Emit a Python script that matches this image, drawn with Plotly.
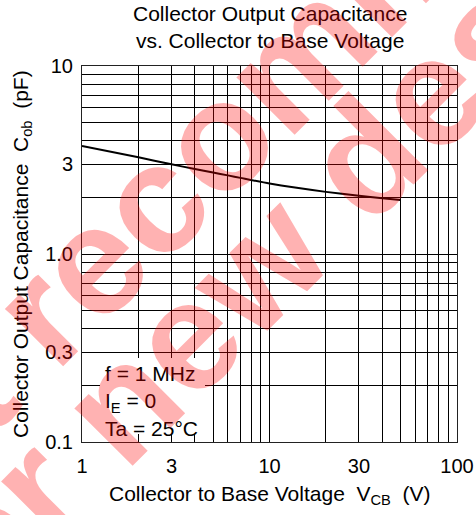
import plotly.graph_objects as go

# ---- data ----
vcb = [1, 2, 3, 4, 5, 6, 7, 10, 20, 30, 40, 50]
cob = [3.75, 3.27, 3.0, 2.83, 2.71, 2.62, 2.54, 2.37, 2.14, 2.04, 1.98, 1.94]

x_tick_vals = [1, 3, 10, 30, 100]
x_tick_text = ["1", "3", "10", "30", "100"]
y_tick_vals = [0.1, 0.3, 1.0, 3, 10]
y_tick_text = ["0.1", "0.3", "1.0", "3", "10"]

title_lines = ["Collector Output Capacitance", "vs. Collector to Base Voltage"]
x_title = "Collector to Base Voltage\u00a0\u00a0V<sub>CB</sub>\u00a0\u00a0(V)"
y_title = "Collector Output Capacitance\u00a0\u00a0C<sub>ob</sub>\u00a0\u00a0(pF)"
conditions = ["f = 1 MHz", "I<sub>E</sub> = 0", "Ta = 25\u00b0C"]
watermark = ["Not recommended", "for new design"]

# ---- layout geometry ----
W, H = 476, 515
L, R, T, B = 82, 19, 66, 73
PW, PH = W - L - R, H - T - B


def fx(px):
    return (px - L) / PW


def fy(py):
    return (H - B - py) / PH


def grid_values(lo_exp, hi_exp):
    vals = []
    for e in range(lo_exp, hi_exp):
        for m in range(1, 10):
            vals.append(round(m * 10 ** e, 6))
    vals.append(round(10 ** hi_exp, 6))
    return vals


def labels_for(grid, vals, texts):
    lut = {round(v, 6): t for v, t in zip(vals, texts)}
    return [lut.get(g, "") for g in grid]


xgrid = grid_values(0, 2)
ygrid = grid_values(-1, 1)

FONT = "Liberation Sans, Arial, Helvetica, sans-serif"

fig = go.Figure()
fig.add_trace(go.Scatter(
    x=vcb, y=cob, mode="lines",
    line=dict(color="black", width=2, shape="spline", smoothing=0.6),
    hoverinfo="skip", showlegend=False,
))

axis_common = dict(
    type="log", showline=True, mirror=True, linecolor="#222", linewidth=1,
    showgrid=True, gridcolor="black", gridwidth=1, ticks="",
    tickfont=dict(size=20, color="black", family=FONT), zeroline=False,
    fixedrange=True,
)
fig.update_xaxes(range=[0, 2], tickmode="array", tickvals=xgrid,
                 ticktext=labels_for(xgrid, x_tick_vals, x_tick_text),
                 ticklabelstandoff=6, **axis_common)
fig.update_yaxes(range=[-1, 1], tickmode="array", tickvals=ygrid,
                 ticktext=labels_for(ygrid, y_tick_vals, y_tick_text),
                 ticklabelstandoff=4, **axis_common)

WM_FONT = dict(size=155, color="rgba(255,0,0,0.3)", family=FONT, weight="bold")

annotations = [
    dict(text="<br>".join(title_lines), x=0.5, y=fy(27), xref="paper", yref="paper",
         xanchor="center", yanchor="middle", showarrow=False,
         font=dict(size=21, color="black", family=FONT)),
    dict(text=x_title, x=0.5, y=fy(495), xref="paper", yref="paper",
         xanchor="center", yanchor="middle", showarrow=False,
         font=dict(size=21, color="black", family=FONT)),
    dict(text=y_title, x=fx(22), y=0.5, xref="paper", yref="paper", textangle=-90,
         xanchor="center", yanchor="middle", showarrow=False,
         font=dict(size=21, color="black", family=FONT)),
    dict(text="<br>".join(conditions), x=fx(103), y=fy(401), xref="paper", yref="paper",
         xanchor="left", yanchor="middle", align="left", showarrow=False,
         font=dict(size=21, color="black", family=FONT)),
    dict(text=watermark[0], x=fx(285), y=fy(68), xref="paper", yref="paper",
         textangle=-45, xanchor="center", yanchor="middle", showarrow=False,
         font=WM_FONT),
    dict(text=watermark[1], x=fx(297), y=fy(225), xref="paper", yref="paper",
         textangle=-45, xanchor="center", yanchor="middle", showarrow=False,
         font=WM_FONT),
]

fig.update_layout(
    width=W, height=H, autosize=False,
    margin=dict(l=L, r=R, t=T, b=B, autoexpand=False),
    paper_bgcolor="white", plot_bgcolor="white",
    font=dict(family=FONT, color="black"),
    annotations=annotations,
    shapes=[dict(type="rect", xref="paper", yref="paper",
                 x0=fx(100), x1=fx(205), y0=fy(434), y1=fy(358),
                 fillcolor="white", line=dict(width=0), layer="above")],
    showlegend=False,
)

fig.write_html("out.html", config={"displayModeBar": False, "staticPlot": True},
               post_script="document.body.style.margin='0px';")
